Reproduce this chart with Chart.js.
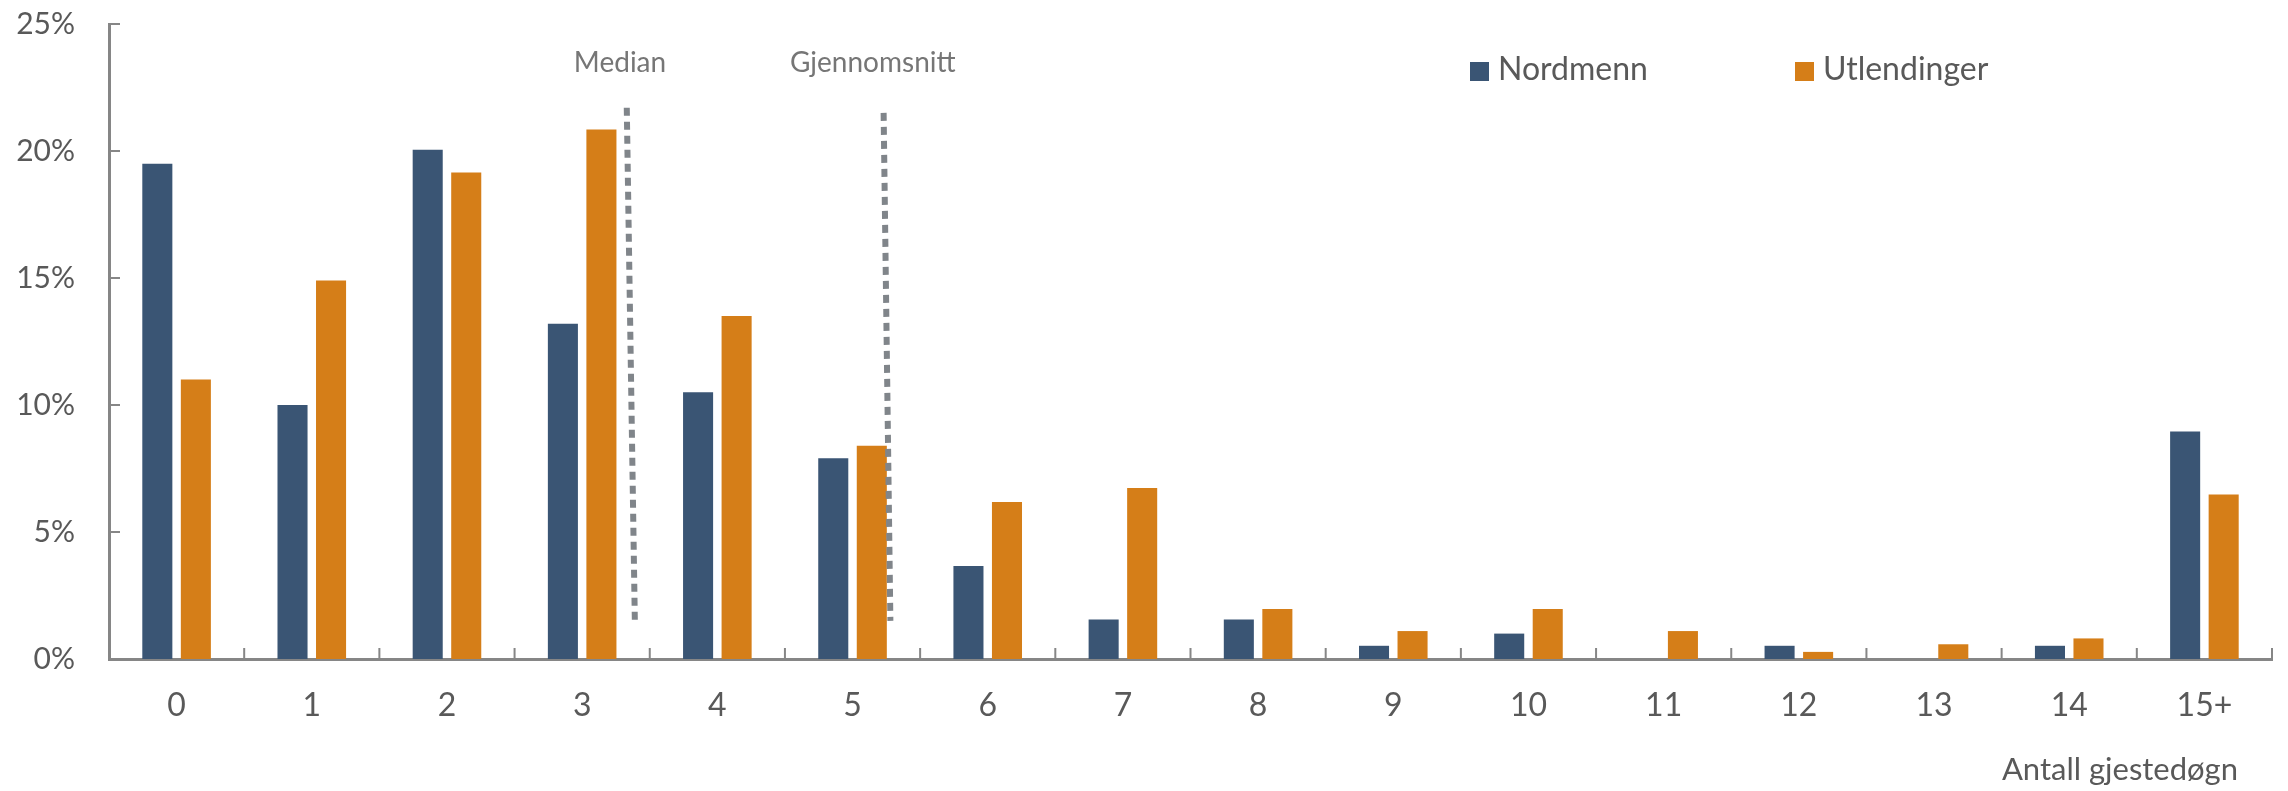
<!DOCTYPE html>
<html>
<head>
<meta charset="utf-8">
<script src="https://cdn.jsdelivr.net/npm/chart.js@4.4.1/dist/chart.umd.min.js"></script>
<style>
    html, body { margin: 0; padding: 0; background: #fff; }
    #wrap { width: 2288px; height: 791px; }
</style>
</head>
<body>
<div id="wrap"><canvas id="nightsChart" width="2288" height="791"></canvas></div>
<script>
// data (percent of guests)
const categories = ['0', '1', '2', '3', '4', '5', '6', '7', '8', '9', '10', '11', '12', '13', '14', '15+'];
const seriesNames = ['Nordmenn', 'Utlendinger'];
const nordmenn = [19.5, 10.0, 20.05, 13.2, 10.5, 7.9, 3.66, 1.56, 1.56, 0.52, 1.0, 0, 0.52, 0, 0.52, 8.96];
const utlendinger = [11.0, 14.9, 19.15, 20.85, 13.5, 8.4, 6.18, 6.73, 1.97, 1.1, 1.97, 1.1, 0.28, 0.58, 0.81, 6.48];
const yTicks = [0, 5, 10, 15, 20, 25];

// dotted marker lines (position on category axis, top and bottom of line)
const markerLabels = ['Median', 'Gjennomsnitt'];
const markerTopX = [3.33, 5.23];
const markerBottomX = [3.39, 5.28];
const markerLabelX = [3.28, 5.15];
const markerTopY = [21.7, 21.5];
const markerBottomY = [1.4, 1.5];

const axisTitle = 'Antall gjestedøgn';

const BLUE = '#3a5574';
const ORANGE = '#d57e18';
const AXIS = '#868686';
const TEXT = '#595959';
const FONT = 'Lato, "Open Sans", sans-serif';

const innerTicks = {
    id: 'innerTicks',
    afterDatasetsDraw(chart) {
        const { ctx, scales: { x, y } } = chart;
        ctx.save();
        ctx.strokeStyle = AXIS;
        ctx.lineWidth = 2;
        ctx.beginPath();
        yTicks.forEach(v => {
            const py = y.getPixelForValue(v);
            ctx.moveTo(x.left, py);
            ctx.lineTo(x.left + 11, py);
        });
        for (let i = 1; i <= categories.length; i++) {
            const px = x.getPixelForValue(i - 0.5);
            ctx.moveTo(px, y.bottom);
            ctx.lineTo(px, y.bottom - 11);
        }
        ctx.stroke();
        ctx.restore();
    }
};

const markerLines = {
    id: 'markerLines',
    afterDatasetsDraw(chart) {
        const { ctx, scales: { x, y } } = chart;
        ctx.save();
        markerLabels.forEach((label, i) => {
            ctx.strokeStyle = '#80858a';
            ctx.lineWidth = 6;
            ctx.setLineDash([8, 6]);
            ctx.beginPath();
            ctx.moveTo(x.getPixelForValue(markerTopX[i]), y.getPixelForValue(markerTopY[i]));
            ctx.lineTo(x.getPixelForValue(markerBottomX[i]), y.getPixelForValue(markerBottomY[i]));
            ctx.stroke();

            ctx.setLineDash([]);
            ctx.fillStyle = '#767676';
            ctx.font = '28px ' + FONT;
            ctx.textAlign = 'center';
            ctx.textBaseline = 'middle';
            ctx.fillText(label, x.getPixelForValue(markerLabelX[i]), y.getPixelForValue(23.45));
        });
        ctx.restore();
    }
};

const customLegend = {
    id: 'customLegend',
    afterDraw(chart) {
        const { ctx } = chart;
        const startX = [1470, 1795];
        ctx.save();
        ctx.font = '32px ' + FONT;
        ctx.textAlign = 'left';
        ctx.textBaseline = 'middle';
        chart.data.datasets.forEach((ds, i) => {
            ctx.fillStyle = ds.backgroundColor;
            ctx.fillRect(startX[i], 62, 19, 19);
            ctx.fillStyle = TEXT;
            ctx.fillText(ds.label, startX[i] + 28, 70);
        });
        // axis title, right side under the x labels
        ctx.font = '31px ' + FONT;
        ctx.textAlign = 'right';
        ctx.textBaseline = 'alphabetic';
        ctx.fillText(axisTitle, chart.chartArea.right - 34, 780);
        ctx.restore();
    }
};

const ctx = document.getElementById('nightsChart').getContext('2d');

new Chart(ctx, {
    type: 'bar',
    data: {
        labels: categories,
        datasets: [{
            label: seriesNames[0],
            data: nordmenn,
            backgroundColor: BLUE,
            categoryPercentage: 0.57,
            barPercentage: 0.78
        }, {
            label: seriesNames[1],
            data: utlendinger,
            backgroundColor: ORANGE,
            categoryPercentage: 0.57,
            barPercentage: 0.78
        }]
    },
    options: {
        responsive: false,
        animation: false,
        layout: {
            padding: { top: 24, right: 16, left: 0, bottom: 0 }
        },
        plugins: {
            legend: { display: false },
            tooltip: { enabled: false }
        },
        scales: {
            x: {
                grid: { display: false },
                border: { display: true, color: AXIS, width: 3 },
                ticks: {
                    color: TEXT,
                    font: { family: FONT, size: 32 },
                    padding: 19,
                    maxRotation: 0
                },
                afterFit(scale) {
                    scale.height = 132;
                    scale.paddingLeft = 0;
                    scale.paddingRight = 0;
                }
            },
            y: {
                min: 0,
                max: 25,
                grid: { display: false, drawTicks: false },
                border: { display: true, color: AXIS, width: 3 },
                ticks: {
                    stepSize: 5,
                    color: TEXT,
                    font: { family: FONT, size: 30 },
                    padding: 34,
                    callback: v => v + '%'
                },
                afterFit(scale) {
                    scale.width = 109;
                    scale.paddingTop = 0;
                    scale.paddingBottom = 0;
                }
            }
        }
    },
    plugins: [innerTicks, markerLines, customLegend]
});
</script>
</body>
</html>
